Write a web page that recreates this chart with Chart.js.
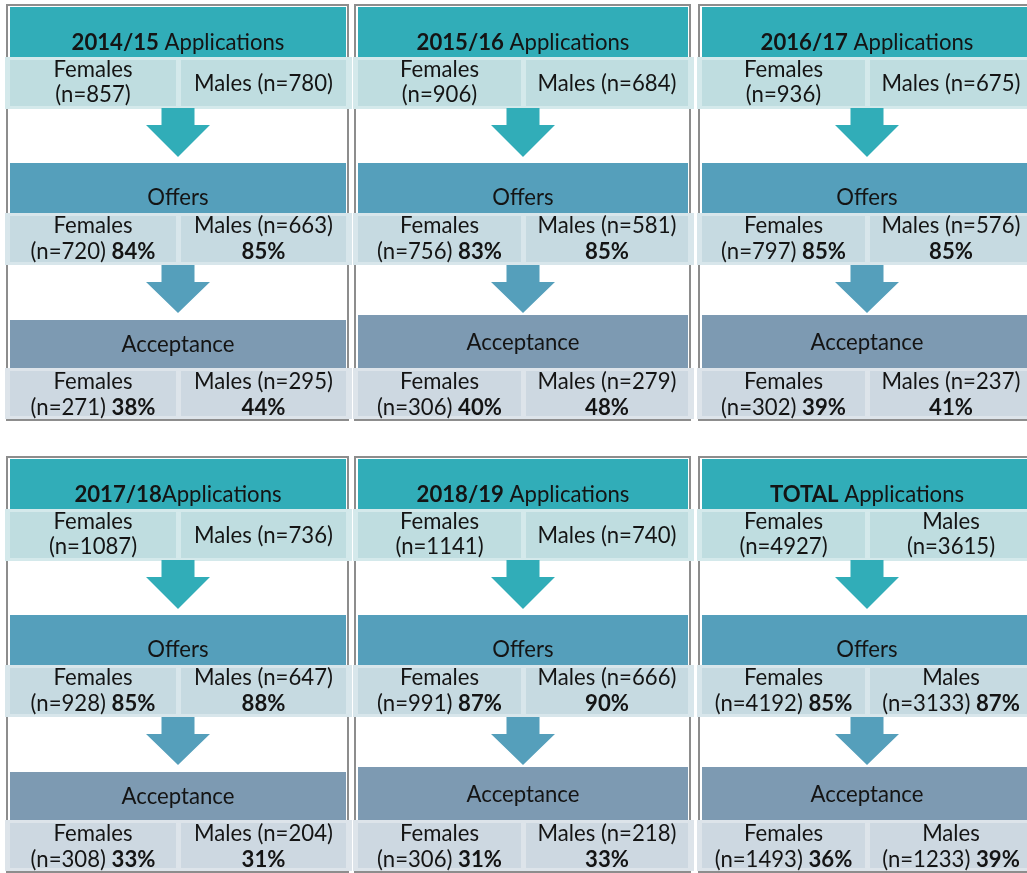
<!DOCTYPE html>
<html>
<head>
<meta charset="utf-8">
<title>Applications, offers and acceptance by sex</title>
<script src="https://cdn.jsdelivr.net/npm/chart.js@4.4.1/dist/chart.umd.min.js"></script>
<style>
  html, body { margin: 0; padding: 0; background: #fff; }
  #flow { display: block; }
</style>
</head>
<body>
<canvas id="flow" width="1027" height="873"></canvas>
<script>
// data
const periods     = ['2014/15', '2015/16', '2016/17', '2017/18', '2018/19', 'TOTAL'];
const titleSuffix = [' Applications', ' Applications', ' Applications', 'Applications', ' Applications', ' Applications'];
const appliedF    = [857, 906, 936, 1087, 1141, 4927];
const appliedM    = [780, 684, 675, 736, 740, 3615];
const offersF     = [720, 756, 797, 928, 991, 4192];
const offersM     = [663, 581, 576, 647, 666, 3133];
const offerPctF   = [84, 83, 85, 85, 87, 85];
const offerPctM   = [85, 85, 85, 88, 90, 87];
const acceptF     = [271, 306, 302, 308, 306, 1493];
const acceptM     = [295, 279, 237, 204, 218, 1233];
const acceptPctF  = [38, 40, 39, 33, 31, 36];
const acceptPctM  = [44, 48, 41, 31, 33, 39];

// layout of the panels
const colLeft  = [10, 358, 702];
const colWidth = [336, 330, 330];
const rowTop   = [7, 459];

const teal   = '#31adb8', tealLight   = '#bfdde0';
const blue   = '#559fbb', blueLight   = '#c6dae1';
const slate  = '#7d9ab2', slateLight  = '#cdd8e1';
const ink    = '#141414';
const family = 'Lato, "Open Sans", sans-serif';

const flowPlugin = {
  id: 'flow',
  afterDraw(chart) {
    const ctx = chart.ctx;
    const xs = chart.scales.x, ys = chart.scales.y;
    const X = v => xs.getPixelForValue(v);
    const Y = v => ys.getPixelForValue(v);

    // size the font so "Females" is as wide as in the picture
    ctx.font = '100px ' + family;
    const size = 100 * 79 / ctx.measureText('Females').width;
    const font = b => (b ? 'bold ' : '') + size.toFixed(2) + 'px ' + family;

    function box(x0, y0, w, h, color) {
      ctx.fillStyle = color;
      ctx.fillRect(X(x0), Y(y0), X(x0 + w) - X(x0), Y(y0 + h) - Y(y0));
    }

    // runs = [[text, bold], ...] centred on cx, middle at cy
    function write(runs, cx, cy) {
      let total = 0;
      runs.forEach(r => { ctx.font = font(r[1]); total += ctx.measureText(r[0]).width; });
      let x = X(cx) - total / 2;
      ctx.fillStyle = ink;
      ctx.textBaseline = 'middle';
      ctx.textAlign = 'left';
      runs.forEach(r => {
        ctx.font = font(r[1]);
        ctx.fillText(r[0], x, Y(cy + 1));
        x += ctx.measureText(r[0]).width;
      });
    }

    function arrow(cx, top, headTop, tip, color) {
      ctx.beginPath();
      ctx.moveTo(X(cx - 16.5), Y(top));
      ctx.lineTo(X(cx + 16.5), Y(top));
      ctx.lineTo(X(cx + 16.5), Y(headTop));
      ctx.lineTo(X(cx + 33), Y(headTop));
      ctx.lineTo(X(cx), Y(tip));
      ctx.lineTo(X(cx - 33), Y(headTop));
      ctx.lineTo(X(cx - 16.5), Y(headTop));
      ctx.closePath();
      ctx.fillStyle = color;
      ctx.fill();
      ctx.strokeStyle = '#fff';
      ctx.lineWidth = 1.5;
      ctx.beginPath();
      ctx.moveTo(X(cx + 33), Y(headTop));
      ctx.lineTo(X(cx), Y(tip));
      ctx.lineTo(X(cx - 33), Y(headTop));
      ctx.stroke();
    }

    function cells(L, W, top, h, color, light) {
      box(L - 5, top, W + 11, h, light);
      box(L, top + 3, W / 2 - 2, h - 6, color);
      box(L + W / 2 + 3, top + 3, W / 2 - 3, h - 6, color);
    }

    periods.forEach((p, i) => {
      const col = i % 3, row = Math.floor(i / 3);
      const L = colLeft[col], W = colWidth[col], T = rowTop[row];
      const accTop = col === 0 ? 313 : 308;
      const cF = L + (W / 2 - 2) / 2;
      const cM = L + W / 2 + 3 + (W / 2 - 3) / 2;
      const mid = L + W / 2;
      const isTotal = p === 'TOTAL';

      // frame
      ctx.strokeStyle = '#8d8d8d';
      ctx.lineWidth = 2;
      ctx.strokeRect(X(L - 3), Y(T - 2), X(L + W + 2) - X(L - 3), Y(T + 413) - Y(T - 2));

      // applications
      box(L, T, W, 50, teal);
      write([[p, true], [titleSuffix[i], false]], mid, T + 35);
      cells(L, W, T + 50, 52, tealLight, '#d4e9eb');
      write([['Females', false]], cF, T + 62);
      write([['(n=' + appliedF[i] + ')', false]], cF, T + 87);
      if (isTotal) {
        write([['Males', false]], cM, T + 62);
        write([['(n=' + appliedM[i] + ')', false]], cM, T + 87);
      } else {
        write([['Males (n=' + appliedM[i] + ')', false]], cM, T + 76);
      }
      arrow(mid, T + 101, T + 118, T + 151, teal);

      // offers
      box(L, T + 156, W, 50, blue);
      write([['Offers', false]], mid, T + 190);
      cells(L, W, T + 206, 52, blueLight, '#d8e6eb');
      write([['Females', false]], cF, T + 218);
      write([['(n=' + offersF[i] + ') ', false], [offerPctF[i] + '%', true]], cF, T + 244);
      if (isTotal) {
        write([['Males', false]], cM, T + 218);
        write([['(n=' + offersM[i] + ') ', false], [offerPctM[i] + '%', true]], cM, T + 244);
      } else {
        write([['Males (n=' + offersM[i] + ')', false]], cM, T + 218);
        write([[offerPctM[i] + '%', true]], cM, T + 244);
      }
      arrow(mid, T + 258, T + 275, T + 307, blue);

      // acceptance
      box(L, T + accTop, W, 361 - accTop, slate);
      write([['Acceptance', false]], mid, T + (accTop + 361) / 2);
      cells(L, W, T + 361, 51, slateLight, '#dde4ea');
      write([['Females', false]], cF, T + 374);
      write([['(n=' + acceptF[i] + ') ', false], [acceptPctF[i] + '%', true]], cF, T + 400);
      if (isTotal) {
        write([['Males', false]], cM, T + 374);
        write([['(n=' + acceptM[i] + ') ', false], [acceptPctM[i] + '%', true]], cM, T + 400);
      } else {
        write([['Males (n=' + acceptM[i] + ')', false]], cM, T + 374);
        write([[acceptPctM[i] + '%', true]], cM, T + 400);
      }
    });
  }
};

new Chart(document.getElementById('flow'), {
  type: 'scatter',
  data: { datasets: [] },
  options: {
    responsive: false,
    animation: false,
    events: [],
    layout: { padding: 0 },
    plugins: { legend: { display: false }, tooltip: { enabled: false } },
    scales: {
      x: { type: 'linear', min: 0, max: 1027, display: false },
      y: { type: 'linear', min: 0, max: 873, reverse: true, display: false }
    }
  },
  plugins: [flowPlugin]
});
</script>
</body>
</html>
